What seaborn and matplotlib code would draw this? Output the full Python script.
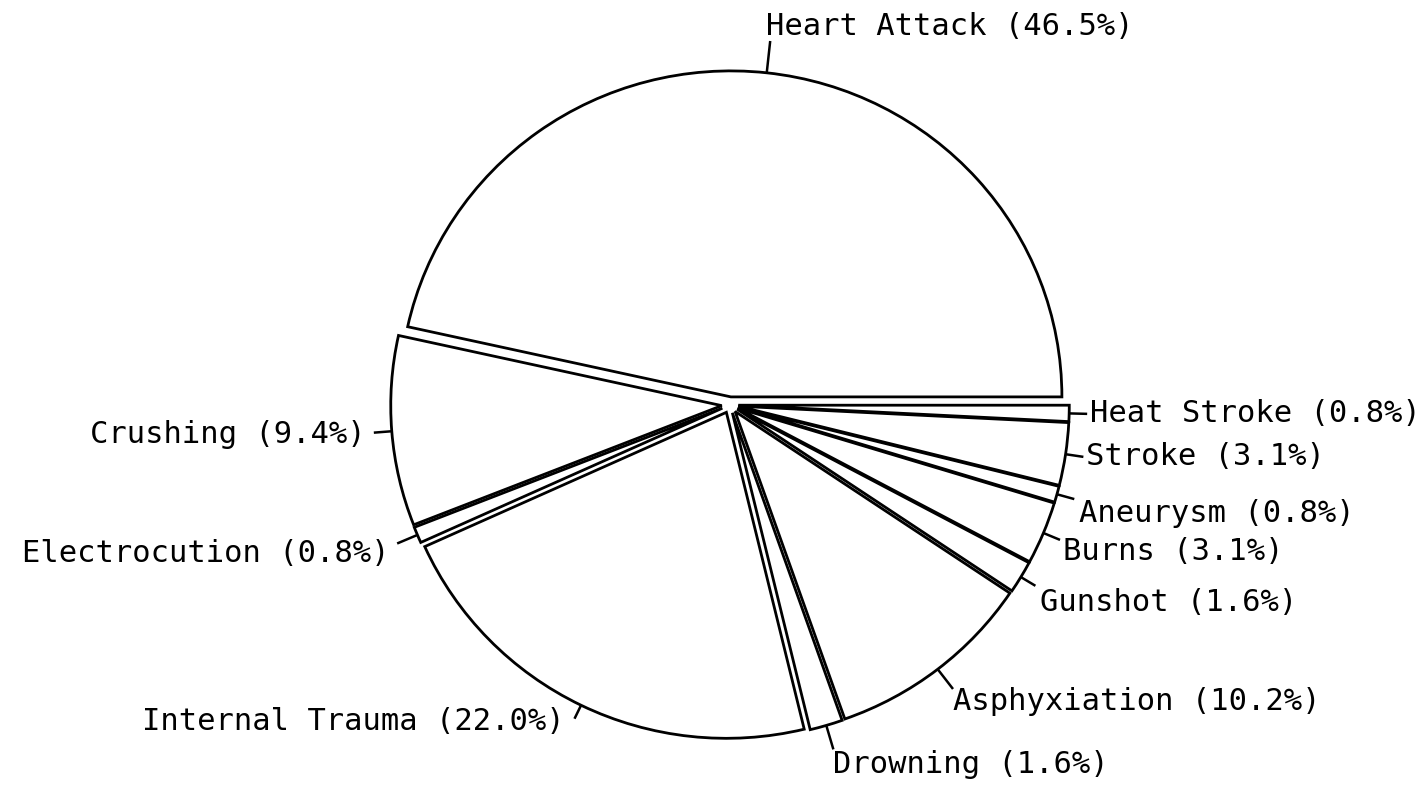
import numpy as np
import matplotlib
matplotlib.use("Agg")
import matplotlib.pyplot as plt
import seaborn as sns

# ---- data ----
causes = ["Heart Attack", "Crushing", "Electrocution", "Internal Trauma", "Drowning",
          "Asphyxiation", "Gunshot", "Burns", "Aneurysm", "Stroke", "Heat Stroke"]
shares = [46.5, 9.4, 0.8, 22.0, 1.6, 10.2, 1.6, 3.1, 0.8, 3.1, 0.8]

# ---- label layout (leader length px, text offset px (right, down), ha, va) ----
layout = {
    "Heart Attack":    (32, (-4, 0), "left", "bottom"),
    "Crushing":        (18, (-8, 2), "right", "center"),
    "Electrocution":   (22, (-8, 10), "right", "center"),
    "Internal Trauma": (15, (-10, 3), "right", "center"),
    "Drowning":        (25, (0, 15), "left", "center"),
    "Asphyxiation":    (25, (0, 13), "left", "center"),
    "Gunshot":         (17, (5, 17), "left", "center"),
    "Burns":           (18, (3, 12), "left", "center"),
    "Aneurysm":        (18, (5, 14), "left", "center"),
    "Stroke":          (18, (3, 0), "left", "center"),
    "Heat Stroke":     (18, (3, 0), "left", "center"),
}

sns.set_theme(style="white")
plt.rcParams["font.family"] = ["DejaVu Sans Mono", "DejaVu Sans"]

W, H = 1427, 788
fig = plt.figure(figsize=(W / 100, H / 100), dpi=100)
fig.patch.set_facecolor("white")
ax = fig.add_axes([0, 0, 1, 1])

sx, sy = 331.0, 326.0          # pixels per data unit
cxp, cyp = 730.0, 405.0        # pie centre in image pixels (from top)

wedges, _ = ax.pie(shares, startangle=0, counterclock=True,
                   explode=[0.025] * len(shares),
                   colors=["white"] * len(shares),
                   wedgeprops=dict(edgecolor="black", linewidth=2.0))

ax.set_aspect("auto")
ax.set_xlim(-cxp / sx, (W - cxp) / sx)
ax.set_ylim(-(H - cyp) / sy, cyp / sy)
ax.axis("off")

for w, name, pct in zip(wedges, causes, shares):
    L, (dx, dy), ha, va = layout[name]
    th = np.deg2rad((w.theta1 + w.theta2) / 2)
    cx, cy = w.center
    r = w.r
    p0 = (cx + r * np.cos(th), cy + r * np.sin(th))
    p1 = (cx + (r + L / sx) * np.cos(th), cy + (r + L / sy) * np.sin(th))
    ax.plot([p0[0], p1[0]], [p0[1], p1[1]], color="black", lw=1.8,
            solid_capstyle="butt")
    ax.annotate(f"{name} ({pct:.1f}%)", xy=p1, xytext=(dx, -dy),
                textcoords="offset pixels", ha=ha, va=va,
                fontsize=22, color="black")

fig.savefig("out.png", dpi=100, facecolor="white")
